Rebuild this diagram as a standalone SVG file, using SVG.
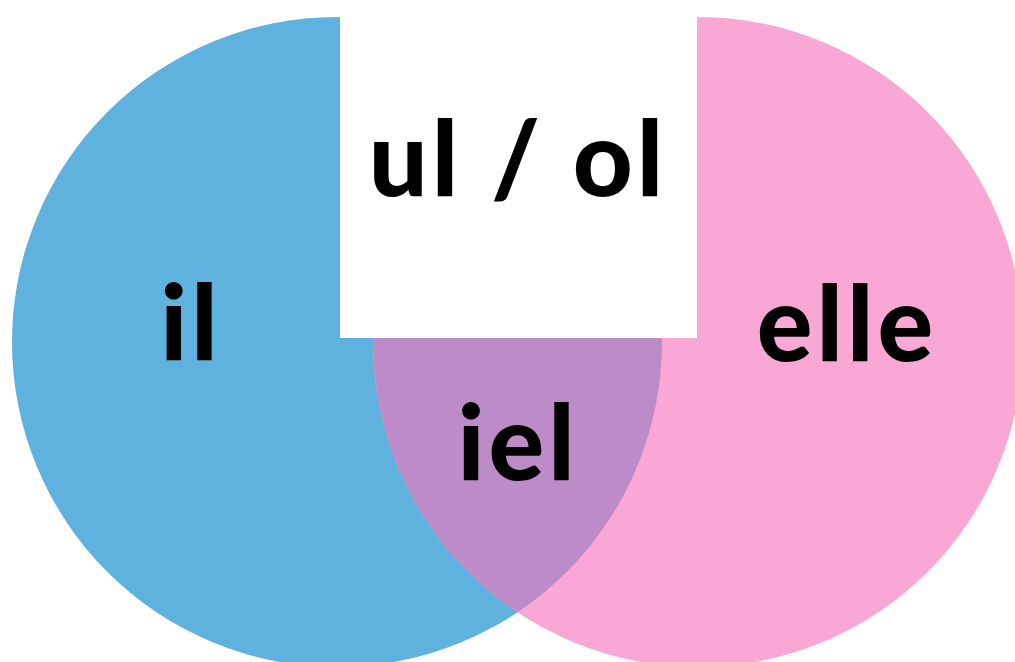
<svg xmlns="http://www.w3.org/2000/svg" width="1015" height="662" viewBox="0 0 1015 662">
<style>
.t{font-family:"Lato","Open Sans","Liberation Sans",sans-serif;font-weight:900;fill:#000;text-anchor:middle;font-size:104px;letter-spacing:4px}
</style>
<defs>
<clipPath id="cb"><circle cx="337" cy="342" r="325"/></clipPath>
</defs>
<rect width="1015" height="662" fill="#fff"/>
<g id="il-circle">
<circle cx="337" cy="342" r="325" fill="#5FB1DE"/>
</g>
<g id="elle-circle">
<circle cx="698" cy="342" r="325" fill="#F9A7D4"/>
</g>
<g id="iel-overlap">
<circle cx="698" cy="342" r="325" fill="#BE8BC9" clip-path="url(#cb)"/>
</g>
<g id="ul-ol-box">
<rect x="340" y="0" width="357" height="338" fill="#fff"/>
<text class="t" x="518" y="196">ul / ol</text>
</g>
<g id="il"><text class="t" x="191" y="360">il</text></g>
<g id="elle"><text class="t" x="847" y="361">elle</text></g>
<g id="iel"><text class="t" x="518" y="480">iel</text></g>
<g id="connectors"></g>
</svg>
